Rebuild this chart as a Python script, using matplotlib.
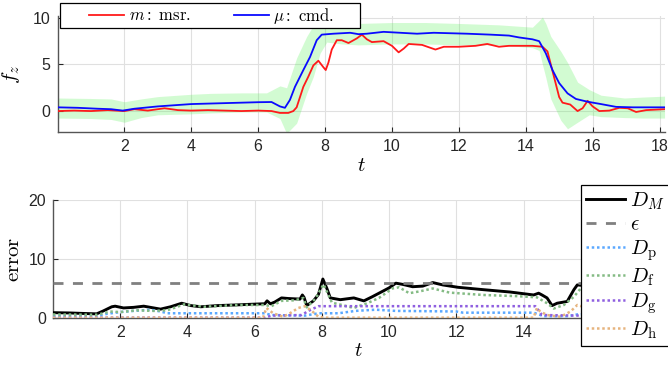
import numpy as np
import matplotlib
matplotlib.use("Agg")
import matplotlib.pyplot as plt
from matplotlib.patches import Rectangle

plt.rcParams['font.family'] = ['Liberation Sans', 'DejaVu Sans']
plt.rcParams['mathtext.fontset'] = 'cm'

# ---- top panel: force in z ----
t_msr = [0.0, 0.5, 1.0, 1.5, 2.0, 2.3, 2.7, 3.2, 3.6, 4.0, 4.5, 5.0, 5.5, 6.0, 6.4, 6.65,
         6.9, 7.05, 7.15, 7.25, 7.35, 7.5, 7.65, 7.8, 7.95, 8.02, 8.1, 8.2, 8.35, 8.5, 8.7,
         8.95, 9.1, 9.25, 9.4, 9.75, 10.0, 10.2, 10.35, 10.5, 10.9, 11.3, 11.55, 12.0, 12.5,
         12.85, 13.2, 13.5, 13.8, 14.2, 14.5, 14.65, 14.75, 14.85, 15.0, 15.1, 15.33, 15.55,
         15.7, 15.85, 16.0, 16.2, 16.5, 16.8, 17.05, 17.3, 17.6, 18.15]
f_msr = [0.0, 0.05, 0.0, 0.1, 0.0, 0.2, 0.05, 0.3, 0.1, 0.05, 0.1, 0.05, 0.0, 0.05, 0.0, -0.2,
         -0.2, 0.0, 0.4, 1.5, 2.6, 3.7, 4.9, 5.4, 4.7, 4.4, 5.2, 6.6, 7.6, 7.6, 7.3,
         7.8, 8.2, 7.7, 7.4, 7.5, 7.0, 6.3, 6.7, 7.2, 7.1, 6.6, 6.9, 6.9, 7.0,
         7.2, 6.9, 7.0, 7.0, 7.0, 6.9, 6.4, 5.0, 3.6, 1.5, 0.9, 0.7, 0.0,
         0.3, 1.1, 0.5, 0.0, 0.05, 0.35, 0.3, -0.1, 0.1, 0.2]

t_cmd = [0.0, 0.6, 1.2, 1.6, 1.95, 2.3, 3.0, 4.0, 5.0, 6.0, 6.4, 6.65, 6.8, 6.95, 7.1, 7.35,
         7.55, 7.75, 7.9, 8.25, 8.75, 9.0, 9.25, 9.75, 10.75, 11.25, 12.25, 12.95, 13.5,
         13.8, 14.2, 14.4, 14.6, 14.8, 15.0, 15.25, 15.5, 15.85, 16.25, 16.7, 17.2, 18.15]
f_cmd = [0.4, 0.35, 0.25, 0.2, 0.05, 0.25, 0.5, 0.75, 0.85, 0.95, 0.97, 0.5, 0.35, 1.2, 2.6, 4.4,
         5.8, 7.6, 8.2, 8.3, 8.4, 8.25, 8.3, 8.5, 8.3, 8.4, 8.3, 8.2, 8.1,
         7.9, 7.7, 7.5, 6.2, 4.4, 3.0, 1.9, 1.3, 1.0, 0.75, 0.45, 0.4, 0.4]

t_band = [0.0, 1.0, 1.6, 2.0, 2.5, 3.0, 4.0, 4.6, 5.5, 6.25, 6.65, 6.85, 7.15, 7.45, 7.65,
          7.85, 8.05, 8.5, 9.0, 10.0, 11.0, 12.0, 13.2, 14.2, 14.4, 14.5, 14.6, 14.75, 15.05,
          15.25, 15.55, 15.9, 16.25, 16.95, 17.5, 18.15]
band_hi = [1.4, 1.35, 1.3, 1.0, 1.3, 1.55, 1.8, 1.9, 1.95, 1.95, 2.7, 2.5, 5.7, 8.0, 9.2,
           9.6, 9.6, 9.5, 9.4, 9.5, 9.5, 9.4, 9.25, 9.0, 9.7, 10.1, 9.4, 8.0, 6.4,
           5.2, 3.1, 2.3, 1.7, 1.4, 1.5, 1.6]
band_lo = [-0.75, -0.8, -0.9, -1.2, -0.7, -0.4, -0.3, -0.2, -0.1, -0.1, -0.8, -2.4, -1.3, 1.9, 3.7,
           6.2, 7.4, 7.2, 7.1, 7.2, 7.2, 7.1, 7.1, 6.8, 6.5, 5.0, 3.6, 1.3, -1.0,
           -1.9, -1.2, -0.4, -0.6, -0.7, -0.75, -0.75]

# ---- bottom panel: error terms ----
eps = 6.0

t_dm = [0.0, 0.5, 1.0, 1.3, 1.5, 1.75, 1.85, 2.1, 2.4, 2.7, 3.0, 3.2, 3.5, 3.83, 4.1, 4.4,
        4.9, 5.4, 5.8, 6.25, 6.3, 6.37, 6.47, 6.6, 6.8, 7.0, 7.35, 7.42, 7.47, 7.55, 7.75,
        7.9, 8.03, 8.15, 8.25, 8.55, 8.95, 9.25, 9.5, 9.7, 10.0, 10.2, 10.4, 10.7, 11.0,
        11.3, 11.6, 12.05, 12.8, 13.6, 14.3, 14.45, 14.55, 14.7, 14.85, 15.0, 15.3, 15.5,
        15.6, 15.8, 16.5, 17.0, 17.5, 18.15]
d_m = [0.9, 0.85, 0.75, 0.7, 1.2, 1.9, 2.0, 1.7, 1.8, 2.0, 1.7, 1.5, 1.9, 2.5, 2.1, 1.9,
       2.1, 2.2, 2.3, 2.4, 2.4, 2.9, 2.4, 2.7, 3.4, 3.3, 3.2, 3.9, 3.5, 2.1, 2.9,
       4.0, 6.6, 5.0, 3.4, 3.1, 3.4, 2.9, 3.6, 4.2, 5.1, 5.9, 5.7, 5.3, 5.4,
       6.0, 5.6, 5.2, 4.8, 4.4, 3.9, 4.2, 3.9, 3.4, 2.1, 2.5, 2.8, 4.8,
       5.6, 5.5, 5.0, 4.8, 4.9, 5.0]

t_p = [0.0, 1.3, 1.6, 2.0, 2.4, 2.9, 3.2, 3.4, 5.3, 6.3, 6.5, 7.5, 7.9, 8.5, 9.0, 9.6,
       10.2, 12.0, 12.2, 14.3, 14.6, 15.3, 15.6, 16.5, 18.15]
d_p = [0.3, 0.3, 0.7, 1.0, 1.2, 1.4, 1.1, 0.8, 0.8, 0.8, 0.5, 0.4, 0.8, 0.8, 1.2, 1.4,
       1.2, 1.1, 0.9, 0.9, 0.3, 0.3, 0.6, 0.8, 0.8]

t_f = [0.0, 1.3, 1.5, 1.7, 2.0, 2.5, 3.0, 3.4, 3.9, 4.5, 5.5, 6.3, 6.5, 6.8, 7.2, 7.45,
       7.55, 7.8, 8.05, 8.3, 8.6, 8.95, 9.35, 9.7, 10.1, 10.3, 10.6, 10.9, 11.3, 11.8,
       12.8, 13.8, 14.4, 14.7, 14.9, 15.2, 15.5, 15.7, 16.5, 17.5, 18.15]
d_f = [0.6, 0.55, 0.8, 1.1, 1.0, 1.3, 1.2, 1.3, 2.3, 1.9, 2.2, 2.2, 2.0, 2.9, 3.0, 3.4,
       1.8, 3.2, 5.7, 2.6, 2.2, 1.7, 2.5, 3.4, 5.0, 5.2, 4.2, 4.5, 5.0, 4.3,
       3.9, 3.7, 3.5, 2.5, 1.6, 2.2, 3.6, 5.0, 4.6, 4.5, 4.6]

t_g = [0.0, 6.3, 6.5, 7.4, 7.6, 7.9, 14.35, 14.55, 15.6, 16.0, 18.15]
d_g = [0.05, 0.05, 0.4, 0.5, 1.2, 2.0, 2.0, 0.5, 0.4, 1.0, 1.5]

t_h = [0.0, 6.25, 6.35, 6.55, 6.85, 7.05, 7.3, 7.5, 7.7, 7.9, 8.1, 14.3, 14.4, 14.5, 14.7,
       15.1, 15.4, 15.6, 16.0, 18.15]
d_h = [0.05, 0.05, 1.7, 0.8, 0.2, 0.8, 1.7, 2.0, 1.2, 0.2, 0.05, 0.05, 1.7, 1.1, 0.5,
       0.2, 1.1, 2.2, 1.5, 0.5]

fig = plt.figure(figsize=(6.68, 3.73), dpi=100)
ax1 = fig.add_axes([0.0861, 0.6448, 0.9087, 0.3123])
ax2 = fig.add_axes([0.0793, 0.1475, 0.9132, 0.3164])

def style(ax, xticks):
    ax.spines['top'].set_visible(False)
    ax.spines['right'].set_visible(False)
    for s in ('left', 'bottom'):
        ax.spines[s].set_color('#555555')
        ax.spines[s].set_linewidth(1.0)
    ax.tick_params(direction='in', length=3.5, width=0.8, colors='#262626',
                   labelsize=11.5, pad=5)
    ax.grid(True, color='#e0e0e0', linewidth=0.8)
    ax.set_axisbelow(True)
    ax.set_xticks(xticks)

# top panel
style(ax1, np.arange(2, 19, 2))
ax1.fill_between(t_band, band_lo, band_hi, color=(0.3, 0.95, 0.3), alpha=0.25,
                 linewidth=0, zorder=1)
l_m, = ax1.plot(t_msr, f_msr, color='#ff1a1a', lw=1.3, zorder=3)
l_mu, = ax1.plot(t_cmd, f_cmd, color='#0a0aff', lw=1.3, zorder=4)
ax1.set_xlim(0, 18.15)
ax1.set_ylim(-2.3, 10.2)
ax1.set_yticks([0, 5, 10])
ax1.set_xlabel(r'$t$', fontsize=15, labelpad=1)
ax1.set_ylabel(r'$f_z$', fontsize=15, labelpad=8)

fig.add_artist(Rectangle((60 / 668, 1 - 28 / 373), 300 / 668, 25 / 373,
                         transform=fig.transFigure, facecolor='white',
                         edgecolor='black', linewidth=0.9, zorder=3))
fig.legend([l_m, l_mu], [r'$m\mathrm{:\ msr.}$', r'$\mu\mathrm{:\ cmd.}$'],
           loc='center', bbox_to_anchor=(212 / 668, 1 - 15.5 / 373), ncol=2,
           frameon=False, fontsize=12, handlelength=2.1, handletextpad=0.25,
           columnspacing=2.6, borderpad=0.1)

# bottom panel (ticks at 16 and 18 sit under the legend)
style(ax2, np.arange(2, 15, 2))
ax2.plot(t_dm, d_m, color='black', lw=2.1, label=r'$D_M$', zorder=3)
ax2.axhline(eps, color='#808080', lw=2.0, linestyle=(0, (3.6, 3.4)),
            label=r'$\epsilon$', zorder=3)
ax2.plot(t_p, d_p, color='#5aa8ff', lw=1.8, linestyle=(0, (1, 1.1)),
         label=r'$D_\mathrm{p}$', zorder=3)
ax2.plot(t_f, d_f, color='#84bb84', lw=1.8, linestyle=(0, (1, 1.1)),
         label=r'$D_\mathrm{f}$', zorder=3)
ax2.plot(t_g, d_g, color='#8f5fe0', lw=1.8, linestyle=(0, (1, 1.1)),
         label=r'$D_\mathrm{g}$', zorder=3)
ax2.plot(t_h, d_h, color='#e6b47e', lw=1.8, linestyle=(0, (1, 1.1)),
         label=r'$D_\mathrm{h}$', zorder=3)
ax2.set_xlim(0, 18.15)
ax2.set_ylim(0, 20)
ax2.set_yticks([0, 10, 20])
ax2.set_xlabel(r'$t$', fontsize=15, labelpad=1)
ax2.set_ylabel(r'$\mathrm{error}$', fontsize=15, labelpad=4)
leg = ax2.legend(loc='upper left', bbox_to_anchor=(0.8656, 1.127), borderaxespad=0,
                 fontsize=15, handlelength=1.85, handletextpad=0.25, borderpad=0.25,
                 labelspacing=0.17, fancybox=False, framealpha=1)
leg.get_frame().set_edgecolor('black')
leg.get_frame().set_linewidth(0.9)

fig.savefig('out.png', dpi=100)
